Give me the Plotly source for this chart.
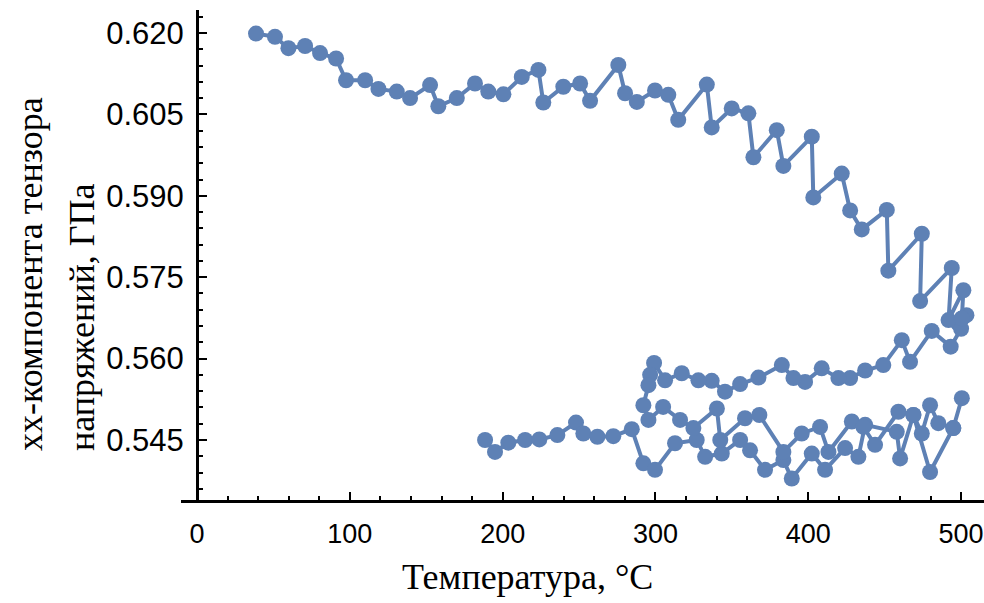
import plotly.graph_objects as go

# Upper branch (heating)
t_up = [38.6, 51.0, 59.8, 70.7, 80.5, 91.0, 97.5, 110.0, 118.7, 130.7, 139.4, 152.5, 157.9, 170.0,
        181.9, 190.6, 200.5, 212.5, 223.4, 226.6, 239.7, 250.7, 257.2, 275.7, 280.1, 287.8, 299.7,
        308.4, 314.9, 333.6, 336.8, 349.9, 360.8, 364.1, 379.4, 383.7, 402.3, 403.3, 421.9, 427.4,
        435.0, 451.4, 452.4, 474.3, 473.2, 493.9, 491.8, 501.5, 500.5]
s_up = [0.6199, 0.6193, 0.6172, 0.6176, 0.6163, 0.6153, 0.6113, 0.6113, 0.6097, 0.6092, 0.6080,
        0.6104, 0.6065, 0.6080, 0.6107, 0.6092, 0.6087, 0.6119, 0.6132, 0.6072, 0.6101, 0.6107,
        0.6075, 0.6141, 0.6089, 0.6073, 0.6094, 0.6086, 0.6040, 0.6105, 0.6026, 0.6061, 0.6052,
        0.5971, 0.6021, 0.5955, 0.6009, 0.5897, 0.5941, 0.5873, 0.5838, 0.5874, 0.5762, 0.5830,
        0.5706, 0.5767, 0.5671, 0.5726, 0.5674]

# Middle branch (cooling) continuing into lower zigzag
t_mid = [500.5, 503.5, 498.0, 500.0, 493.2, 480.8, 466.6, 461.2, 449.1, 437.2, 427.4, 419.7, 408.8,
         397.9, 390.3, 382.7, 367.4, 355.4, 345.5, 336.8, 328.1, 317.2, 306.3, 299.1, 296.5, 295.4,
         292.1, 295.4, 305.0, 316.1, 324.8, 340.2, 342.4, 358.6, 368.0, 383.7, 395.7, 407.7, 413.2,
         428.5, 436.1, 443.7, 459.0, 468.8, 474.3, 479.7, 485.1, 494.9, 500.5]
s_mid = [0.5674, 0.5680, 0.5665, 0.5655, 0.5622, 0.5651, 0.5594, 0.5634, 0.5588, 0.5578, 0.5564,
         0.5564, 0.5582, 0.5557, 0.5564, 0.5588, 0.5565, 0.5553, 0.5539, 0.5559, 0.5560, 0.5573,
         0.5560, 0.5592, 0.5570, 0.5551, 0.5514, 0.5487, 0.5511, 0.5487, 0.5472, 0.5508, 0.5450,
         0.5490, 0.5496, 0.5428, 0.5462, 0.5474, 0.5428, 0.5484, 0.5474, 0.5441, 0.5502, 0.5496,
         0.5462, 0.5514, 0.5481, 0.5472, 0.5527]

# Lower branch (from 190 C)
t_low = [188.5, 195.0, 203.7, 214.7, 224.0, 235.8, 248.0, 252.8, 262.0, 272.4, 284.5, 292.1, 299.7,
         312.8, 327.0, 332.5, 343.4, 355.4, 361.9, 371.7, 383.7, 389.2, 402.3, 411.0, 424.1, 432.8,
         437.2, 457.9, 460.1, 468.8, 479.7, 494.9]
s_low = [0.5450, 0.5428, 0.5445, 0.5450, 0.5451, 0.5459, 0.5482, 0.5462, 0.5456, 0.5457, 0.5470,
         0.5407, 0.5395, 0.5444, 0.5450, 0.5419, 0.5425, 0.5450, 0.5431, 0.5395, 0.5413, 0.5379,
         0.5425, 0.5395, 0.5435, 0.5419, 0.5478, 0.5465, 0.5416, 0.5496, 0.5391, 0.5472]

x_ticks = [0, 100, 200, 300, 400, 500]
y_ticks = [0.545, 0.560, 0.575, 0.590, 0.605, 0.620]
y_tick_text = ["0.545", "0.560", "0.575", "0.590", "0.605", "0.620"]

COLOR = "#5E81B5"
W, H = 984, 603
L, R, T, B = 181, 0, 10, 103
PW, PH = W - L - R, H - T - B

def px(xp):
    return (xp - L) / PW

def py(yp):
    return (H - B - yp) / PH

fig = go.Figure()
for tx, sy in [(t_low, s_low), (t_mid, s_mid), (t_up, s_up)]:
    fig.add_trace(go.Scatter(x=tx, y=sy, mode="lines+markers",
                             line=dict(color=COLOR, width=4),
                             marker=dict(color=COLOR, size=16),
                             showlegend=False, cliponaxis=False))

fig.update_layout(
    width=W, height=H,
    margin=dict(l=L, r=R, t=T, b=B, autoexpand=False),
    plot_bgcolor="white", paper_bgcolor="white",
    xaxis=dict(range=[-10.5, 515], showgrid=False, zeroline=False, automargin=False,
               showline=True, linecolor="black", linewidth=3,
               tickvals=x_ticks, ticks="inside", ticklen=8, tickwidth=2, tickcolor="black",
               minor=dict(dtick=20, tick0=0, ticks="inside", ticklen=4, tickwidth=2, tickcolor="black"),
               tickfont=dict(family="Liberation Sans", size=27, color="black"),
               ticklabelstandoff=8),
    yaxis=dict(range=[0.53394, 0.62424], showgrid=False, zeroline=False, automargin=False,
               anchor="free", position=16 / PW,
               showline=True, linecolor="black", linewidth=3,
               tickvals=y_ticks, ticktext=y_tick_text,
               ticks="inside", ticklen=8, tickwidth=2, tickcolor="black",
               minor=dict(dtick=0.003, tick0=0.545, ticks="inside", ticklen=4, tickwidth=2, tickcolor="black"),
               tickfont=dict(family="Liberation Sans", size=31, color="black"),
               ticklabelstandoff=6),
    annotations=[
        dict(text="Температура, °C", x=px(527), y=py(577), xref="paper", yref="paper",
             xanchor="center", yanchor="middle", showarrow=False,
             font=dict(family="Liberation Serif", size=36, color="black")),
        dict(text="xx-компонента тензора", x=px(30), y=py(453), xref="paper", yref="paper",
             xanchor="center", yanchor="bottom", textangle=-90, showarrow=False,
             font=dict(family="Liberation Serif", size=36, color="black")),
        dict(text="напряжений, ГПа", x=px(82), y=py(453), xref="paper", yref="paper",
             xanchor="center", yanchor="bottom", textangle=-90, showarrow=False,
             font=dict(family="Liberation Serif", size=36, color="black")),
    ],
)

fig.write_html("out.html", config={"displayModeBar": False},
               post_script="document.body.style.margin='0';document.body.style.overflow='hidden';")
